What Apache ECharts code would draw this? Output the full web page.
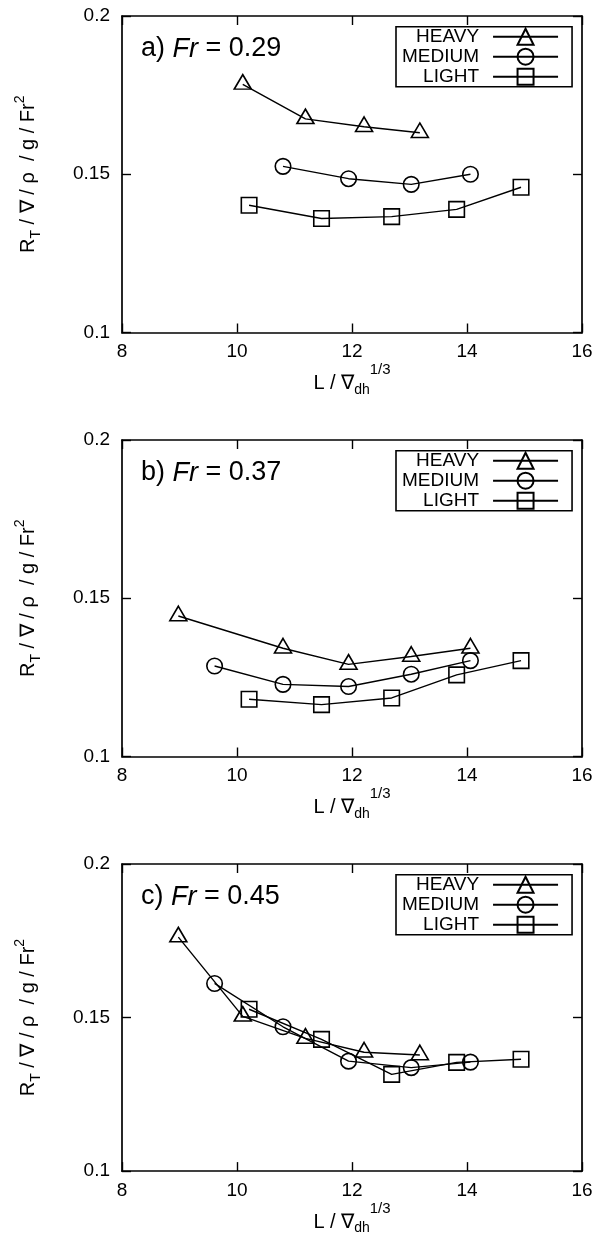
<!DOCTYPE html>
<html>
<head>
<meta charset="utf-8">
<script src="https://cdn.jsdelivr.net/npm/echarts@6/dist/echarts.min.js"></script>
<style>
html,body{margin:0;padding:0;background:#fff;}
#chart{width:603px;height:1245px;}
</style>
</head>
<body>
<div id="chart"></div>
<script>
// ---- data ----
const seriesNames = ['HEAVY', 'MEDIUM', 'LIGHT'];
const panelTitles = ['a) ', 'b) ', 'c) '];
const panelFr = ['0.29', '0.37', '0.45'];
const xTicks = [8, 10, 12, 14, 16];
const yTicks = [0.1, 0.15, 0.2];

const heavyX_a = [10.10, 11.19, 12.21, 13.18];
const heavyY_a = [0.1784, 0.1675, 0.1650, 0.1631];
const mediumX_a = [10.80, 11.94, 13.03, 14.06];
const mediumY_a = [0.1525, 0.1486, 0.1468, 0.1500];
const lightX_a = [10.21, 11.47, 12.69, 13.82, 14.94];
const lightY_a = [0.1402, 0.1360, 0.1366, 0.1389, 0.1459];

const heavyX_b = [8.98, 10.80, 11.94, 13.03, 14.06];
const heavyY_b = [0.1444, 0.1342, 0.1291, 0.1316, 0.1342];
const mediumX_b = [9.61, 10.80, 11.94, 13.03, 14.06];
const mediumY_b = [0.1286, 0.1228, 0.1221, 0.1260, 0.1303];
const lightX_b = [10.21, 11.47, 12.69, 13.82, 14.94];
const lightY_b = [0.1181, 0.1164, 0.1185, 0.1258, 0.1303];

const heavyX_c = [8.98, 10.10, 11.19, 12.21, 13.18];
const heavyY_c = [0.1762, 0.1504, 0.1432, 0.1387, 0.1378];
const mediumX_c = [9.61, 10.80, 11.94, 13.03, 14.06];
const mediumY_c = [0.1611, 0.1470, 0.1358, 0.1337, 0.1355];
const lightX_c = [10.21, 11.47, 12.69, 13.82, 14.94];
const lightY_c = [0.1527, 0.1429, 0.1315, 0.1354, 0.1364];

const panels = [
  [[heavyX_a, heavyY_a], [mediumX_a, mediumY_a], [lightX_a, lightY_a]],
  [[heavyX_b, heavyY_b], [mediumX_b, mediumY_b], [lightX_b, lightY_b]],
  [[heavyX_c, heavyY_c], [mediumX_c, mediumY_c], [lightX_c, lightY_c]]
];

// ---- layout / style ----
const FONT = 'Liberation Sans';
const gridTops = [16, 440, 864];
const gridLeft = 122, gridWidth = 460, gridHeight = 316.5;
const symbols = ['triangle', 'circle', 'rect'];
const symbolSizes = [[17, 14.5], 15.5, 15.5];
const symbolOffsets = [[0, -2.5], [0, 0], [0, 0]];

const zip = (xs, ys) => xs.map((x, i) => [x, ys[i]]);

const grid = [], xAxis = [], yAxis = [], series = [], title = [], legend = [];

gridTops.forEach((top, p) => {
  grid.push({left: gridLeft, top: top, width: gridWidth, height: gridHeight, show: false});
  const axisLine = {show: true, lineStyle: {color: '#000', width: 1.7}};
  const axisTick = {show: true, inside: true, length: 9, lineStyle: {color: '#000', width: 1.4}};
  xAxis.push({
    type: 'value', gridIndex: p, position: 'bottom', min: xTicks[0], max: xTicks[xTicks.length - 1], interval: 2,
    axisLine, axisTick, splitLine: {show: false},
    axisLabel: {color: '#000', fontSize: 19, fontFamily: FONT, margin: 10},
    name: '{n|L / ∇}{sub|dh}{sup|1/3}', nameLocation: 'middle', nameGap: 34,
    nameTextStyle: {
      color: '#000', fontFamily: FONT,
      rich: {
        n: {fontSize: 20, fontFamily: FONT, color: '#000', lineHeight: 30},
        sub: {fontSize: 14, fontFamily: FONT, color: '#000', lineHeight: 30, padding: [12, 0, 0, 0]},
        sup: {fontSize: 15, fontFamily: FONT, color: '#000', lineHeight: 30, padding: [0, 0, 28, 0]}
      }
    }
  });
  xAxis.push({
    type: 'value', gridIndex: p, position: 'top', min: xTicks[0], max: xTicks[xTicks.length - 1], interval: 2,
    axisLine, axisTick, splitLine: {show: false}, axisLabel: {show: false}
  });
  yAxis.push({
    type: 'value', gridIndex: p, position: 'left', min: yTicks[0], max: yTicks[yTicks.length - 1], interval: 0.05,
    axisLine, axisTick, splitLine: {show: false},
    axisLabel: {color: '#000', fontSize: 19, fontFamily: FONT, margin: 12},
    name: '{n|R}{sub|T}{n| / ∇ / ρ  / g / Fr}{sup|2}', nameLocation: 'middle', nameGap: 79, nameRotate: 90,
    nameTextStyle: {
      color: '#000', fontFamily: FONT,
      rich: {
        n: {fontSize: 20, fontFamily: FONT, color: '#000', lineHeight: 30},
        sub: {fontSize: 14, fontFamily: FONT, color: '#000', lineHeight: 30, padding: [16, 0, 0, 0]},
        sup: {fontSize: 14, fontFamily: FONT, color: '#000', lineHeight: 30, padding: [0, 0, 15, 0]}
      }
    }
  });
  yAxis.push({
    type: 'value', gridIndex: p, position: 'right', min: yTicks[0], max: yTicks[yTicks.length - 1], interval: 0.05,
    axisLine, axisTick, splitLine: {show: false}, axisLabel: {show: false}
  });

  panels[p].forEach((s, k) => {
    series.push({
      type: 'line', name: seriesNames[k], xAxisIndex: p * 2, yAxisIndex: p * 2,
      data: zip(s[0], s[1]),
      symbol: symbols[k], symbolSize: symbolSizes[k], symbolOffset: symbolOffsets[k], showSymbol: true,
      lineStyle: {color: '#000', width: 1.4},
      itemStyle: {color: 'rgba(0,0,0,0)', borderColor: '#000', borderWidth: 1.6},
      emphasis: {disabled: true},
      animation: false, z: 3
    });
  });

  title.push({
    text: '{n|' + panelTitles[p] + '}{i|Fr}{n| = ' + panelFr[p] + '}',
    left: 141, top: top + 18, padding: 0,
    textStyle: {
      fontWeight: 'normal',
      rich: {
        n: {fontSize: 27, fontFamily: FONT, fontWeight: 'normal', color: '#000', lineHeight: 30},
        i: {fontSize: 27, fontFamily: FONT, fontWeight: 'normal', fontStyle: 'italic', color: '#000', lineHeight: 30}
      }
    }
  });

  legend.push({
    data: seriesNames, orient: 'vertical', align: 'right',
    left: 396, top: top + 10.7,
    itemWidth: 65, itemHeight: 20, itemGap: 0,
    padding: [0, 13, 0, 6],
    borderColor: '#000', borderWidth: 1.6, backgroundColor: '#fff',
    selectedMode: false,
    textStyle: {color: '#000', fontSize: 19, fontFamily: FONT, lineHeight: 20, padding: [0, 9, 0, 0]}
  });
});

const chart = echarts.init(document.getElementById('chart'), null, {renderer: 'canvas'});
chart.setOption({
  animation: false,
  backgroundColor: '#fff',
  title, legend, grid, xAxis, yAxis, series
});
</script>
</body>
</html>
